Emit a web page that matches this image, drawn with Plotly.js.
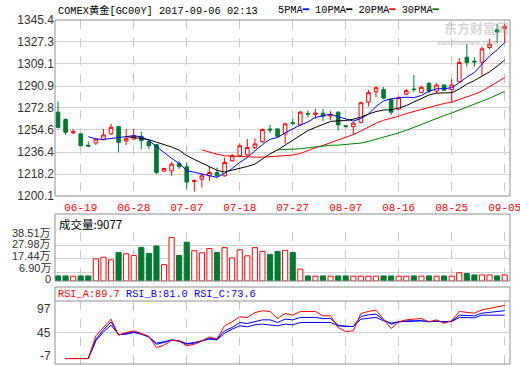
<!DOCTYPE html>
<html>
<head>
<meta charset="utf-8">
<script src="https://cdn.plot.ly/plotly-3.0.1.min.js"></script>
<style>
html,body{margin:0;padding:0;background:#fff;}
#chart{width:520px;height:365px;}
</style>
</head>
<body>
<div id="chart"></div>
<script>
// ---- data ----
const dates = ['06-14','06-15','06-16','06-19','06-20','06-21','06-22','06-23','06-26','06-27',
  '06-28','06-29','06-30','07-03','07-04','07-05','07-06','07-07','07-10','07-11',
  '07-12','07-13','07-14','07-17','07-18','07-19','07-20','07-21','07-24','07-25',
  '07-26','07-27','07-28','07-31','08-01','08-02','08-03','08-04','08-07','08-08',
  '08-09','08-10','08-11','08-14','08-15','08-16','08-17','08-18','08-21','08-22',
  '08-23','08-24','08-25','08-28','08-29','08-30','08-31','09-01','09-04','09-05'];

const openP = [1269.3,1263.2,1252.3,1251.4,1242.0,1243.9,1246.6,1251.4,1257.4,1245.5,
  1247.2,1249.4,1245.0,1242.5,1220.6,1220.9,1227.0,1224.2,1212.0,1214.0,
  1216.8,1219.5,1216.8,1229.2,1233.3,1234.0,1240.2,1245.0,1255.4,1255.5,
  1251.4,1260.6,1258.8,1268.2,1267.5,1268.5,1266.2,1269.3,1258.0,1257.4,
  1261.0,1277.6,1286.2,1287.9,1279.6,1271.8,1284.3,1288.4,1285.6,1293.1,
  1286.7,1291.7,1288.0,1294.5,1314.7,1311.4,1310.5,1322.7,1337.4,1338.2];
const highP = [1278.2,1264.3,1255.5,1251.8,1245.0,1247.5,1255.5,1259.7,1258.0,1255.4,
  1255.4,1253.1,1246.0,1243.0,1223.5,1228.4,1228.7,1227.8,1213.7,1219.0,
  1224.5,1223.6,1232.0,1234.8,1243.6,1247.2,1247.7,1256.0,1258.8,1256.0,
  1260.5,1263.8,1270.5,1270.7,1272.1,1272.1,1270.1,1270.0,1258.8,1261.0,
  1278.0,1287.9,1290.6,1290.0,1280.5,1282.0,1288.7,1300.0,1291.0,1294.2,
  1293.1,1292.5,1296.7,1313.8,1325.5,1314.7,1323.6,1329.9,1342.1,1342.1];
const lowP = [1255.8,1250.5,1251.0,1241.2,1240.2,1242.2,1246.0,1250.5,1236.1,1242.2,
  1246.5,1238.9,1238.9,1218.2,1220.0,1216.7,1222.5,1206.2,1203.7,1207.0,
  1212.6,1215.8,1216.0,1228.5,1232.4,1233.0,1239.0,1244.0,1252.0,1248.0,
  1243.1,1258.2,1258.0,1265.2,1263.8,1261.8,1263.0,1254.1,1256.0,1250.8,
  1260.0,1274.0,1281.7,1280.0,1267.1,1271.0,1283.5,1286.0,1285.0,1285.0,
  1285.0,1286.7,1277.4,1294.0,1307.0,1307.0,1299.5,1321.0,1326.3,1326.3];
const closeP = [1256.8,1252.7,1253.2,1241.6,1241.3,1247.2,1250.5,1256.8,1244.4,1247.7,
  1250.0,1245.8,1241.6,1219.5,1222.8,1226.4,1224.5,1211.6,1213.0,1216.8,
  1219.5,1216.8,1227.8,1233.3,1241.6,1240.2,1243.1,1254.9,1254.6,1249.4,
  1259.7,1260.0,1269.3,1267.7,1268.5,1266.0,1266.9,1258.8,1257.6,1260.2,
  1277.1,1285.4,1289.5,1280.9,1269.3,1281.5,1287.1,1287.9,1289.8,1286.7,
  1291.7,1287.5,1291.7,1310.3,1310.3,1310.8,1321.6,1325.5,1335.5,1340.2];

const ma5 = [null,null,null,null,1249.1,1247.2,1246.8,1247.5,1248.0,1249.3,
  1249.9,1248.9,1245.9,1240.9,1235.9,1231.2,1227.0,1221.0,1219.7,1218.5,
  1217.1,1215.5,1218.8,1222.8,1227.8,1231.9,1237.2,1242.6,1246.9,1248.4,
  1252.3,1255.7,1258.6,1261.2,1265.0,1266.3,1267.7,1265.6,1263.6,1261.9,
  1264.1,1267.8,1274.0,1278.6,1280.4,1281.3,1281.7,1281.3,1283.1,1286.6,
  1288.6,1288.7,1289.5,1293.6,1298.3,1302.1,1308.9,1315.7,1320.7,1326.7];
const ma10 = [null,null,null,null,null,null,null,null,null,1249.2,
  1248.5,1247.9,1246.7,1244.5,1242.6,1240.6,1238.0,1233.4,1230.3,1227.2,
  1224.2,1221.3,1219.9,1221.3,1223.1,1224.5,1226.4,1230.7,1234.9,1238.1,
  1242.1,1246.5,1250.6,1254.1,1256.7,1259.3,1261.7,1262.1,1262.4,1263.5,
  1265.2,1267.8,1269.8,1271.1,1271.2,1272.7,1274.7,1277.7,1280.9,1283.5,
  1285.0,1285.2,1285.4,1288.4,1292.5,1295.4,1298.8,1302.6,1307.2,1312.5];
const ma20 = [null,null,null,null,null,null,null,null,null,null,
  null,null,null,null,null,null,null,null,null,1238.2,
  1236.3,1234.6,1233.3,1232.9,1232.9,1232.5,1232.2,1232.1,1232.6,1232.7,
  1233.1,1233.9,1235.2,1237.7,1239.9,1241.9,1244.0,1246.4,1248.6,1250.8,
  1253.7,1257.1,1260.2,1262.6,1264.0,1266.0,1268.2,1269.9,1271.6,1273.5,
  1275.1,1276.5,1277.6,1279.7,1281.8,1284.1,1286.8,1290.1,1294.0,1298.0];
const ma30 = [null,null,null,null,null,null,null,null,null,null,
  null,null,null,null,null,null,null,null,null,null,
  null,null,null,null,null,null,null,null,null,1238.2,
  1238.3,1238.5,1239.1,1239.9,1240.8,1241.5,1242.0,1242.1,1242.5,1242.9,
  1243.8,1245.2,1246.8,1248.8,1250.3,1252.2,1254.3,1256.8,1259.4,1261.7,
  1264.1,1266.5,1268.6,1271.2,1273.5,1275.8,1278.4,1280.8,1283.5,1286.5];

// volume, in 万 (10k)
const volume = [4.0,4.0,3.8,4.0,4.0,17.5,18.8,16.7,22.6,21.5,
  20.2,26.6,21.8,27.7,12.9,34.4,20.2,30.7,23.9,22.3,
  25.6,22.6,26.4,18.3,24.7,19.9,26.4,23.4,21.0,23.4,
  24.2,22.6,9.4,4.0,3.8,4.0,3.8,4.0,4.0,3.8,
  3.8,3.8,3.8,4.0,4.0,3.8,3.8,4.0,3.8,4.0,
  3.8,4.0,3.8,6.5,5.9,4.8,4.8,4.8,4.0,4.8];

const rsiA = [null,2,2,2,2,39.5,53.3,67.0,40.6,45.0,
  47.8,43.3,38.4,20.2,24.1,32.3,30.7,23.0,25.7,31.2,
  37.8,34.0,56.0,62.6,70.9,69.8,78.0,80.8,79.7,68.1,
  76.4,73.6,79.7,79.7,79.7,72.5,72.5,53.3,46.7,47.8,
  76.4,79.7,81.9,67.0,51.6,62.6,65.9,67.0,68.1,62.6,
  65.9,60.4,64.3,79.7,78.0,76.9,82.4,84.6,87.9,89.7];
const rsiB = [null,2,2,2,2,34.0,49.4,62.6,41.1,43.3,
  46.1,43.3,38.4,25.7,28.5,32.9,31.2,25.7,27.4,31.2,
  35.1,34.0,47.8,53.3,61.5,59.9,63.2,65.9,65.9,61.5,
  67.0,65.9,69.8,69.8,69.8,68.1,68.1,57.1,54.9,54.9,
  71.4,74.2,75.3,65.9,58.8,62.6,64.3,64.3,64.3,62.6,
  64.3,61.5,63.7,73.6,73.6,72.5,76.9,78.0,79.7,81.0];
const rsiC = [null,2,2,2,2,31.2,46.1,57.1,41.7,42.2,
  45.0,42.2,37.3,27.4,29.6,32.3,31.2,26.8,28.5,31.2,
  34.0,32.9,43.9,50.5,56.0,54.4,57.7,58.8,57.7,56.0,
  58.8,57.7,61.5,61.5,61.5,61.5,61.5,56.0,54.9,54.9,
  67.0,68.7,69.8,64.3,60.4,62.6,63.2,64.3,64.3,63.2,
  63.2,62.6,63.2,69.8,69.2,69.2,73.6,73.6,73.6,73.6];

const priceTicks = [1200.1,1218.2,1236.4,1254.6,1272.8,1290.9,1309.1,1327.3,1345.4];
const volTicks = [0,6.90,17.44,27.98,38.51];
const volTickText = ['0','6.90万','17.44万','27.98万','38.51万'];
const rsiTicks = [-7,45,97];
const dateTicks = ['06-19','06-28','07-07','07-18','07-27','08-07','08-16','08-25','09-05'];

// ---- styles ----
const RED = '#ff0000', GREEN = '#007a33', BLUE = '#0000ff';
const GRID = '#d2d2d2', BORDER = '#8f8f8f';
const MONO = 'Liberation Mono, DejaVu Sans Mono, Noto Sans CJK SC, monospace';
const SANS = 'Liberation Sans, Noto Sans CJK SC, sans-serif';

const up = closeP.map((c,i)=> c >= openP[i]);

const traces = [
  {type:'bar', x:dates, y:volume, xaxis:'x', yaxis:'y2', width:0.68,
   marker:{color: up.map(u=> u ? '#ffffff' : GREEN),
           line:{color: up.map(u=> u ? RED : GREEN), width:1}},
   hoverinfo:'skip'},
  {type:'candlestick', x:dates, open:openP, high:highP, low:lowP, close:closeP,
   xaxis:'x', yaxis:'y', whiskerwidth:0,
   increasing:{line:{color:RED, width:1}, fillcolor:'#ffffff'},
   decreasing:{line:{color:GREEN, width:1}, fillcolor:GREEN},
   hoverinfo:'skip'},
  {type:'scatter', mode:'lines', x:dates, y:ma5, xaxis:'x', yaxis:'y', line:{color:BLUE, width:1}, hoverinfo:'skip'},
  {type:'scatter', mode:'lines', x:dates, y:ma10, xaxis:'x', yaxis:'y', line:{color:'#000000', width:1}, hoverinfo:'skip'},
  {type:'scatter', mode:'lines', x:dates, y:ma20, xaxis:'x', yaxis:'y', line:{color:RED, width:1}, hoverinfo:'skip'},
  {type:'scatter', mode:'lines', x:dates, y:ma30, xaxis:'x', yaxis:'y', line:{color:'#008000', width:1}, hoverinfo:'skip'},
  {type:'scatter', mode:'lines', x:dates, y:rsiC, xaxis:'x', yaxis:'y3', line:{color:BLUE, width:1}, hoverinfo:'skip'},
  {type:'scatter', mode:'lines', x:dates, y:rsiB, xaxis:'x', yaxis:'y3', line:{color:BLUE, width:1}, hoverinfo:'skip'},
  {type:'scatter', mode:'lines', x:dates, y:rsiA, xaxis:'x', yaxis:'y3', line:{color:RED, width:1}, hoverinfo:'skip'}
];

// vertical layout in pixels of the 344px tall plotting area (top at 20px)
const H = 344, T = 20;
const fy = px => (H + T - px) / H;

// side labels of the volume and RSI panels, nudged inside their panels like the reference
const volLabelPx = [279, 268, 256, 244.5, 233];
const rsiLabelShift = [8, 0, -8];
const sideLabels = [];
volTicks.forEach((v,i)=> sideLabels.push({xref:'paper', yref:'paper', x:0, y:fy(volLabelPx[i]),
  xanchor:'right', yanchor:'middle', xshift:-2, showarrow:false, text:volTickText[i],
  font:{family:SANS, size:11, color:'#333333'}}));
rsiTicks.forEach((v,i)=> sideLabels.push({xref:'paper', yref:'y3', x:0, y:v,
  xanchor:'right', yanchor:'middle', xshift:-2, yshift:rsiLabelShift[i], showarrow:false, text:String(v),
  font:{family:SANS, size:12, color:'#333333'}}));

const layout = {
  width:520, height:365,
  margin:{l:55, r:10, t:20, b:1, pad:0},
  paper_bgcolor:'#ffffff', plot_bgcolor:'#ffffff',
  showlegend:false,
  boxgap:0.32,
  bargap:0.3,
  xaxis:{type:'category', categoryorder:'array', categoryarray:dates,
    range:[-0.4, 59.7], anchor:'y', tickmode:'array', tickvals:dateTicks, ticktext:dateTicks,
    showgrid:true, gridcolor:'#c8c8c8', griddash:'dash', gridwidth:1,
    tickfont:{family:MONO, size:11, color:RED}, ticks:'outside', ticklen:1, tickcolor:'rgba(0,0,0,0)',
    showline:false, zeroline:false, rangeslider:{visible:false}, fixedrange:true},
  yaxis:{domain:[fy(196), 1], range:[1200.1, 1345.4], tickmode:'array',
    tickvals:priceTicks, ticktext:priceTicks.map(v=>v.toFixed(1)),
    showgrid:true, gridcolor:GRID, gridwidth:1, zeroline:false, showline:false, ticks:'',
    tickfont:{family:'Liberation Sans, Arial, sans-serif', size:12, color:'#333333'}, fixedrange:true},
  yaxis2:{domain:[fy(281), fy(232.3)], range:[0, 38.51], tickmode:'array',
    tickvals:volTicks, showticklabels:false,
    showgrid:true, gridcolor:GRID, gridwidth:1, zeroline:false, showline:false, ticks:'', fixedrange:true},
  yaxis3:{domain:[0, fy(301)], range:[-7, 97], tickmode:'array', tickvals:[45], showticklabels:false,
    showgrid:true, gridcolor:GRID, gridwidth:1, zeroline:false, showline:false, ticks:'', fixedrange:true},
  shapes:[
    {type:'rect', xref:'paper', yref:'paper', x0:0, x1:1, y0:fy(196), y1:1, line:{color:BORDER, width:1}},
    {type:'rect', xref:'paper', yref:'paper', x0:0, x1:1, y0:fy(281), y1:fy(214), line:{color:BORDER, width:1}},
    {type:'rect', xref:'paper', yref:'paper', x0:0, x1:1, y0:0, y1:fy(287), line:{color:BORDER, width:1}},
    {type:'line', xref:'paper', yref:'paper', x0:0, x1:1, y0:fy(301), y1:fy(301), line:{color:BORDER, width:1}}
  ],
  annotations:[
    {xref:'paper', yref:'paper', x:0, y:1, xanchor:'left', yanchor:'middle', xshift:1, yshift:10,
     showarrow:false, text:'COMEX黄金[GC00Y] 2017-09-06 02:13',
     font:{family:MONO, size:10.3, color:'#000000'}},
    {xref:'paper', yref:'paper', x:(276-55)/455, y:1, xanchor:'left', yanchor:'middle', yshift:10,
     showarrow:false,
     text:'5PMA<span style="color:#0000ff">━</span> 10PMA<span style="color:#000000">━</span> 20PMA<span style="color:#ff0000">━</span> 30PMA<span style="color:#008000">━</span>',
     font:{family:MONO, size:10.3, color:'#000000'}},
    {xref:'paper', yref:'paper', x:(476-55)/455, y:fy(27), xanchor:'center', yanchor:'middle',
     showarrow:false, text:'<b>东方财富网</b>',
     font:{family:'Noto Sans CJK SC, sans-serif', size:13, color:'rgba(170,170,170,0.5)'}},
    {xref:'paper', yref:'paper', x:(468-55)/455, y:fy(43), xanchor:'center', yanchor:'middle',
     showarrow:false, text:'<b><i>eastmoney.com</i></b>',
     font:{family:'DejaVu Sans, sans-serif', size:7, color:'rgba(170,170,170,0.5)'}},
    {xref:'paper', yref:'paper', x:0, y:fy(223.5), xanchor:'left', yanchor:'middle', xshift:2,
     showarrow:false, text:'成交量:9077',
     font:{family:'Noto Sans CJK SC, sans-serif', size:11.5, color:'#000000'}},
    {xref:'paper', yref:'paper', x:0, y:fy(294), xanchor:'left', yanchor:'middle', xshift:1,
     showarrow:false,
     text:'<span style="color:#ff0000">RSI_A:89.7</span> <span style="color:#0000ff">RSI_B:81.0</span> <span style="color:#0000ff">RSI_C:73.6</span>',
     font:{family:MONO, size:10.3, color:'#0000ff'}}
  ].concat(sideLabels)
};

Plotly.newPlot('chart', traces, layout, {staticPlot:true, displayModeBar:false});
</script>
</body>
</html>
